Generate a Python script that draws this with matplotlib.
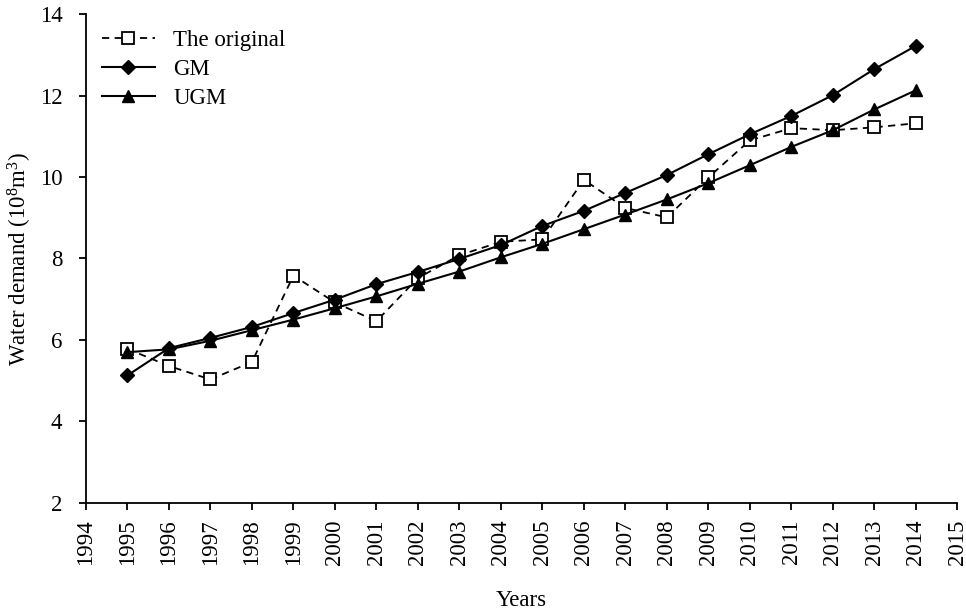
import matplotlib.pyplot as plt
import numpy as np

plt.rcParams['font.family'] = ['Liberation Serif', 'DejaVu Serif']
plt.rcParams['mathtext.fontset'] = 'custom'
plt.rcParams['mathtext.rm'] = 'Liberation Serif'
plt.rcParams['mathtext.it'] = 'Liberation Serif:italic'

years = list(range(1995, 2015))
original = [5.78, 5.36, 5.03, 5.46, 7.58, 6.92, 6.46, 7.52, 8.08, 8.41, 8.47, 9.93, 9.24, 9.01, 9.99, 10.9, 11.2, 11.15, 11.22, 11.32]
gm = [5.13, 5.8, 6.05, 6.32, 6.66, 6.99, 7.37, 7.67, 7.99, 8.33, 8.8, 9.17, 9.61, 10.05, 10.56, 11.05, 11.5, 12.01, 12.65, 13.22]
ugm = [5.7, 5.77, 5.98, 6.24, 6.5, 6.78, 7.07, 7.38, 7.68, 8.03, 8.36, 8.72, 9.08, 9.45, 9.85, 10.29, 10.74, 11.15, 11.66, 12.13]

fig = plt.figure(figsize=(9.66, 6.14), dpi=100)
ax = fig.add_axes([0.089, 0.181, 0.902, 0.796])

ax.plot(years, original, color='black', linestyle='--', dashes=(4, 3), linewidth=1.3,
        marker='s', markersize=8, markerfacecolor='white', markeredgecolor='black',
        markeredgewidth=1.3, label='The original')
ax.plot(years, gm, color='black', linewidth=1.5, marker='D', markersize=7,
        markerfacecolor='black', label='GM')
ax.plot(years, ugm, color='black', linewidth=1.5, marker='^', markersize=9,
        markerfacecolor='black', label='UGM')

ax.set_xlim(1994, 2015)
ax.set_ylim(2, 14)
ax.set_xticks(range(1994, 2016))
ax.set_xticklabels([str(y) for y in range(1994, 2016)], rotation=90)
ax.set_yticks(range(2, 15, 2))
ax.tick_params(direction='out', length=5, width=1.3, labelsize=16.5, colors='black')
ax.tick_params(axis='y', pad=12)
ax.tick_params(axis='x', pad=7)
for s in ['top', 'right']:
    ax.spines[s].set_visible(False)
for s in ['left', 'bottom']:
    ax.spines[s].set_linewidth(1.3)

ax.set_xlabel('Years', fontsize=16.5, labelpad=18)
ax.set_ylabel('Water demand (10$^{8}$m$^{3}$)', fontsize=16.5, labelpad=4)
ax.legend(loc='upper left', bbox_to_anchor=(0.0, 1.0), frameon=False, fontsize=16.5,
          handlelength=2.3, labelspacing=0.35, borderaxespad=0.3)

plt.savefig('out.png', dpi=100)
